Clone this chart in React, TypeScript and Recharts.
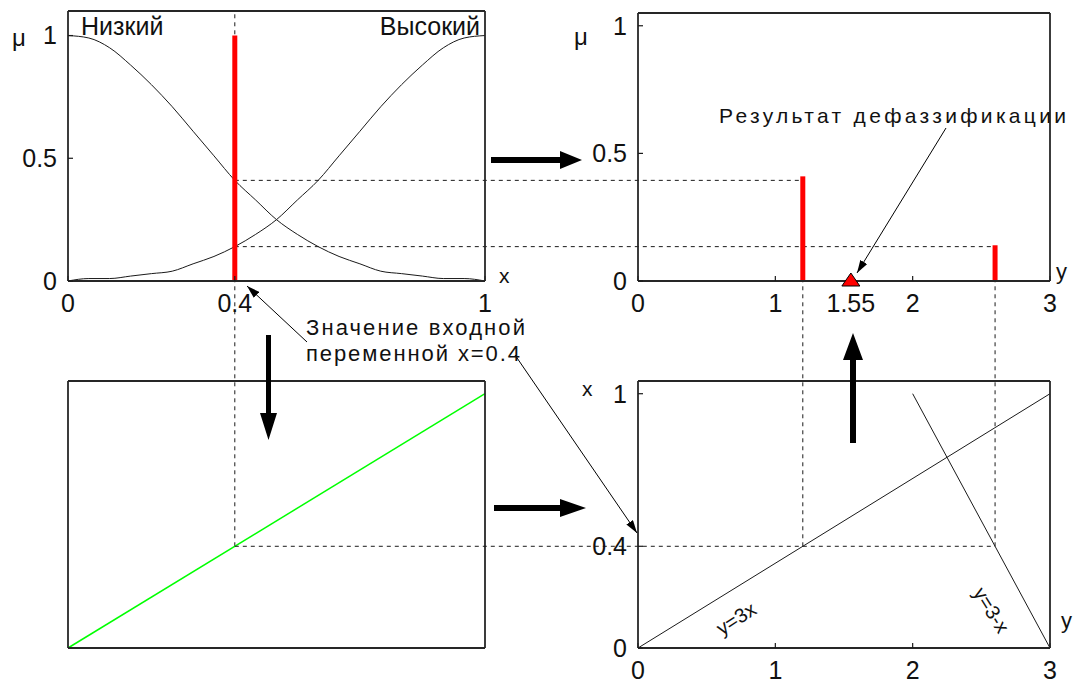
import { ComposedChart, Line, Scatter, XAxis, YAxis, ReferenceLine } from 'recharts'
import type { ReactNode } from 'react'

const FONT = 'Liberation Sans'
const INK = '#1a1a1a'
const RED = '#ff0000'

// input variable x and its two terms (every 0.05)
const X_GRID = [0, 0.05, 0.1, 0.15, 0.2, 0.25, 0.3, 0.35, 0.4, 0.45, 0.5, 0.55, 0.6, 0.65, 0.7, 0.75, 0.8, 0.85, 0.9, 0.95, 1]
const MU_LOW = [1, 0.99, 0.95, 0.88, 0.8, 0.71, 0.61, 0.51, 0.41, 0.33, 0.25, 0.19, 0.14, 0.1, 0.07, 0.04, 0.03, 0.02, 0.01, 0.01, 0]
const MU_HIGH = [0, 0.01, 0.01, 0.02, 0.03, 0.04, 0.07, 0.1, 0.14, 0.19, 0.25, 0.33, 0.41, 0.51, 0.61, 0.71, 0.8, 0.88, 0.95, 0.99, 1]

// crisp input, firing degrees, rule outputs, defuzzified result
const INPUT_X = 0.4
const INPUT_MU = 1
const FIRED_MU = [0.41, 0.14]
const RULE_Y = [1.2, 2.6]
const CRISP_Y = 1.55

// rules drawn in the (y, x) plane: y = 3x and y = 3 - x
const RULE1_Y = [0, 3]
const RULE1_X = [0, 1]
const RULE2_Y = [2, 3]
const RULE2_X = [1, 0]

// identity transfer in the lower-left box
const PASS_IN = [0, 1]
const PASS_OUT = [0, 1]

// ticks
const X_TICKS = [0, 0.4, 1]
const MU_TICKS = [0, 0.5, 1]
const Y_TICKS = [0, 1, 1.55, 2, 3]
const Y_FRAME_TICKS = [0, 1, 2, 3]
const XV_TICKS = [0, 0.4, 1]

type Box = {
  left: number
  top: number
  right: number
  bottom: number
  xd: [number, number]
  yd: [number, number]
}

const TL: Box = { left: 68, top: 11, right: 485, bottom: 281, xd: [0, 1], yd: [0, 1.1] }
const TR: Box = { left: 638, top: 13, right: 1050, bottom: 281, xd: [0, 3], yd: [0, 1.05] }
const BL: Box = { left: 68, top: 381, right: 485, bottom: 648, xd: [0, 1], yd: [0, 1.05] }
const BR: Box = { left: 638, top: 381, right: 1050, bottom: 648, xd: [0, 3], yd: [0, 1.05] }

// page pixel <-> value, only used to carry dashed guides from one box to the next
const pxX = (b: Box, v: number) => b.left + ((v - b.xd[0]) / (b.xd[1] - b.xd[0])) * (b.right - b.left)
const valX = (b: Box, px: number) => b.xd[0] + ((px - b.left) / (b.right - b.left)) * (b.xd[1] - b.xd[0])
const valY = (b: Box, py: number) => b.yd[0] + ((b.bottom - py) / (b.bottom - b.top)) * (b.yd[1] - b.yd[0])

const AX_W = 60
const AX_H = 40

const lowHigh = X_GRID.map((h, i) => ({ h, low: MU_LOW[i], high: MU_HIGH[i] }))
const inputBar = [
  { h: INPUT_X, v: 0 },
  { h: INPUT_X, v: INPUT_MU },
]
const outBars = RULE_Y.map((y, i) => [
  { h: y, v: 0 },
  { h: y, v: FIRED_MU[i] },
])
const rule1 = RULE1_Y.map((h, i) => ({ h, v: RULE1_X[i] }))
const rule2 = RULE2_Y.map((h, i) => ({ h, v: RULE2_X[i] }))
const pass = PASS_IN.map((h, i) => ({ h, v: PASS_OUT[i] }))

const dash = { stroke: INK, strokeWidth: 1, strokeDasharray: '4 4', ifOverflow: 'visible' as const }

// eslint-disable-next-line @typescript-eslint/no-explicit-any
function Triangle(props: any) {
  const { cx, cy } = props
  return (
    <polygon
      points={`${cx},${cy - 8} ${cx + 9},${cy + 5} ${cx - 9},${cy + 5}`}
      fill={RED}
      stroke="#000"
      strokeWidth={1}
    />
  )
}

function Frame({
  box,
  xTicks,
  yTicks,
  topTicks,
  rightTicks,
  children,
}: {
  box: Box
  xTicks: number[]
  yTicks: number[]
  topTicks: number[]
  rightTicks: number[]
  children?: ReactNode
}) {
  // 1px strips for the top / right axes, which only carry the frame and inner ticks
  const w = box.right - box.left + AX_W + 1
  const h = box.bottom - box.top + AX_H + 1
  const tickText = { fontSize: 25, fill: '#111', fontFamily: FONT }
  const axis = { stroke: '#262626', strokeWidth: 1.8 }
  const tl = { stroke: INK, strokeWidth: 1.2 }
  return (
    <div style={{ position: 'absolute', left: box.left - AX_W, top: box.top - 1 }}>
      <ComposedChart width={w} height={h} margin={{ top: 0, right: 0, bottom: 0, left: 0 }}>
        <XAxis
          dataKey="h"
          type="number"
          domain={box.xd}
          ticks={xTicks}
          interval={0}
          height={AX_H}
          axisLine={axis}
          tickLine={tl}
          tickSize={-5}
          tickMargin={18}
          tick={xTicks.length ? tickText : false}
        />
        <XAxis
          xAxisId="top"
          orientation="top"
          type="number"
          domain={box.xd}
          ticks={topTicks}
          interval={0}
          height={1}
          axisLine={axis}
          tickLine={tl}
          tickSize={-5}
          tick={false}
        />
        <YAxis
          dataKey="v"
          type="number"
          domain={box.yd}
          ticks={yTicks}
          interval={0}
          width={AX_W}
          axisLine={axis}
          tickLine={tl}
          tickSize={-5}
          tickMargin={16}
          tick={yTicks.length ? tickText : false}
        />
        <YAxis
          yAxisId="right"
          orientation="right"
          type="number"
          domain={box.yd}
          ticks={rightTicks}
          interval={0}
          width={1}
          axisLine={axis}
          tickLine={tl}
          tickSize={-5}
          tick={false}
        />
        {children}
      </ComposedChart>
    </div>
  )
}

function Arrow({ d }: { d: string }) {
  return <polygon points={d} fill="#000" />
}

export default function App() {
  const txt = { fontFamily: FONT, fill: '#111' }
  return (
    <div style={{ position: 'absolute', left: 0, top: 0, width: 1075, height: 686, background: '#fff' }}>
      <style>{'.recharts-surface{overflow:visible}'}</style>

      {/* lower left: x passed through unchanged */}
      <Frame box={BL} xTicks={[]} yTicks={[]} topTicks={[]} rightTicks={[]}>
        <ReferenceLine
          segment={[
            { x: INPUT_X, y: INPUT_X },
            { x: INPUT_X, y: valY(BL, TL.top) },
          ]}
          {...dash}
        />
        <Line data={pass} dataKey="v" stroke="#00ff00" strokeWidth={1.5} dot={false} activeDot={false} isAnimationActive={false} />
      </Frame>

      {/* lower right: rules y = 3x, y = 3 - x */}
      <Frame box={BR} xTicks={Y_FRAME_TICKS} yTicks={XV_TICKS} topTicks={Y_FRAME_TICKS} rightTicks={XV_TICKS}>
        <ReferenceLine
          segment={[
            { x: valX(BR, pxX(BL, INPUT_X)), y: INPUT_X },
            { x: RULE_Y[1], y: INPUT_X },
          ]}
          {...dash}
        />
        {RULE_Y.map((y) => (
          <ReferenceLine
            key={y}
            segment={[
              { x: y, y: INPUT_X },
              { x: y, y: valY(BR, TR.bottom) },
            ]}
            {...dash}
          />
        ))}
        <Line data={rule1} dataKey="v" stroke={INK} strokeWidth={1} dot={false} activeDot={false} isAnimationActive={false} />
        <Line data={rule2} dataKey="v" stroke={INK} strokeWidth={1} dot={false} activeDot={false} isAnimationActive={false} />
      </Frame>

      {/* upper left: membership of x */}
      <Frame box={TL} xTicks={X_TICKS} yTicks={MU_TICKS} topTicks={X_TICKS} rightTicks={MU_TICKS}>
        {FIRED_MU.map((mu, i) => (
          <ReferenceLine
            key={mu}
            segment={[
              { x: INPUT_X, y: mu },
              { x: valX(TL, pxX(TR, RULE_Y[i])), y: mu },
            ]}
            {...dash}
          />
        ))}
        <Line data={lowHigh} dataKey="low" type="monotone" stroke={INK} strokeWidth={1} dot={false} activeDot={false} isAnimationActive={false} />
        <Line data={lowHigh} dataKey="high" type="monotone" stroke={INK} strokeWidth={1} dot={false} activeDot={false} isAnimationActive={false} />
        <Line data={inputBar} dataKey="v" stroke={RED} strokeWidth={5} dot={false} activeDot={false} isAnimationActive={false} />
      </Frame>

      {/* upper right: output singletons and result */}
      <Frame box={TR} xTicks={Y_TICKS} yTicks={MU_TICKS} topTicks={Y_TICKS} rightTicks={MU_TICKS}>
        {outBars.map((bar, i) => (
          <Line key={i} data={bar} dataKey="v" stroke={RED} strokeWidth={5} dot={false} activeDot={false} isAnimationActive={false} />
        ))}
        <Scatter data={[{ h: CRISP_Y, v: 0 }]} shape={Triangle} isAnimationActive={false} />
      </Frame>

      <svg
        width={1075}
        height={686}
        style={{ position: 'absolute', left: 0, top: 0, pointerEvents: 'none', overflow: 'visible' }}
      >
        <defs>
          <marker id="ah" markerWidth={13} markerHeight={8} refX={13} refY={4} orient="auto" markerUnits="userSpaceOnUse">
            <path d="M0,0 L13,4 L0,8 z" fill="#000" />
          </marker>
        </defs>

        {/* thick flow arrows */}
        <Arrow d="491,157 560,157 560,151 582,160 560,169 560,163 491,163" />
        <Arrow d="266,335 271,335 271,413 277,413 268.5,440 260,413 266,413" />
        <Arrow d="494,505 560,505 560,499 586,508 560,517 560,511 494,511" />
        <Arrow d="850,443 856,443 856,360 863,360 853,333 843,360 850,360" />

        {/* thin annotation arrows */}
        <line x1={307} y1={342} x2={247} y2={286} stroke="#000" strokeWidth={1} markerEnd="url(#ah)" />
        <line x1={515} y1={355} x2={637} y2={533} stroke="#000" strokeWidth={1} markerEnd="url(#ah)" />
        <line x1={946} y1={128} x2={857} y2={273} stroke="#000" strokeWidth={1} markerEnd="url(#ah)" />

        <g {...txt}>
          <text x={12} y={46} fontSize={24}>μ</text>
          <text x={81} y={35} fontSize={25}>Низкий</text>
          <text x={480} y={35} fontSize={25} textAnchor="end">Высокий</text>
          <text x={499} y={283} fontSize={21}>x</text>
          <text x={306} y={335} fontSize={22} textLength={219} lengthAdjust="spacing">Значение входной</text>
          <text x={306} y={361} fontSize={22} textLength={214} lengthAdjust="spacing">переменной x=0.4</text>

          <text x={574} y={45} fontSize={24}>μ</text>
          <text x={1056} y={279} fontSize={22}>y</text>
          <text x={719} y={123} fontSize={21} textLength={347} lengthAdjust="spacing">Результат дефаззификации</text>

          <text x={582} y={396} fontSize={21}>x</text>
          <text x={1061} y={628} fontSize={22}>y</text>
          <text x={737} y={620} fontSize={20} textAnchor="middle" dominantBaseline="middle" transform="rotate(-33 737 620)">y=3x</text>
          <text x={990} y={611} fontSize={20} textAnchor="middle" dominantBaseline="middle" transform="rotate(58 990 611)">y=3-x</text>
        </g>
      </svg>
    </div>
  )
}
